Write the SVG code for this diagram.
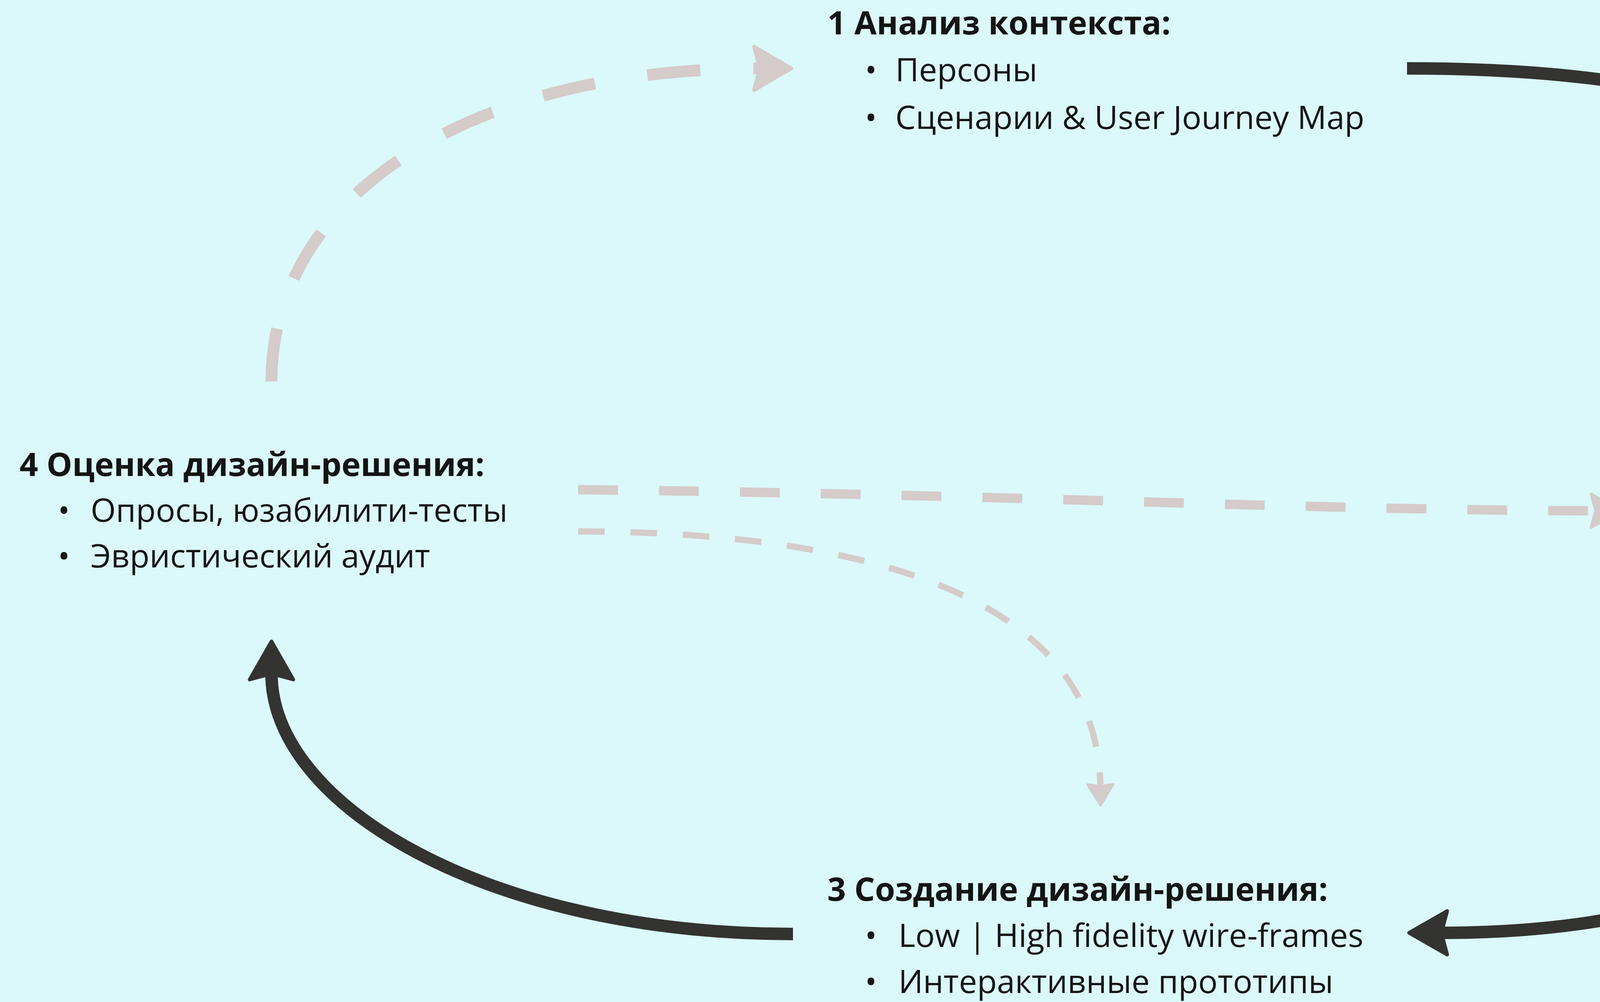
<svg xmlns="http://www.w3.org/2000/svg" width="5748" height="2564" viewBox="0 0 5748 2564">
<style>
  .t { font-family: "Open Sans", "Noto Sans", "Liberation Sans", sans-serif; font-size: 83px; fill: #141414; }
  .h { font-weight: 700; }
  .dark { fill: none; stroke: #333331; stroke-width: 32; stroke-linecap: butt; }
  .pink { fill: none; stroke: #d4cbca; stroke-width: 30; }
  .pinkMid { fill: none; stroke: #d4cbca; stroke-width: 24; }
  .pinkThin { fill: none; stroke: #d4cbca; stroke-width: 16; }
</style>
<defs>
  <marker id="headDark" markerUnits="userSpaceOnUse" orient="auto" refX="15" refY="0" markerWidth="200" markerHeight="200" overflow="visible">
    <path d="M 0 -56 L 98 0 L 0 56 L 15 0 Z" fill="#333331" stroke="#333331" stroke-width="9" stroke-linejoin="round"/>
  </marker>
  <marker id="headPink" markerUnits="userSpaceOnUse" orient="auto" refX="15" refY="0" markerWidth="200" markerHeight="200" overflow="visible">
    <path d="M 0 -56 L 96 0 L 0 56 L 15 0 Z" fill="#d4cbca" stroke="#d4cbca" stroke-width="9" stroke-linejoin="round"/>
  </marker>
  <marker id="headPinkM" markerUnits="userSpaceOnUse" orient="auto" refX="12" refY="0" markerWidth="200" markerHeight="200" overflow="visible">
    <path d="M 0 -43 L 78 0 L 0 43 L 12 0 Z" fill="#d4cbca" stroke="#d4cbca" stroke-width="7" stroke-linejoin="round"/>
  </marker>
  <marker id="headPinkS" markerUnits="userSpaceOnUse" orient="auto" refX="5" refY="0" markerWidth="200" markerHeight="200" overflow="visible">
    <path d="M 0 -33 L 54 0 L 0 33 L 5 0 Z" fill="#d4cbca" stroke="#d4cbca" stroke-width="6" stroke-linejoin="round"/>
  </marker>
</defs>
<rect x="0" y="0" width="5748" height="2564" fill="#dbf8fa"/>

<g id="connectors">
  <path id="e1-2" class="dark" d="M 3602 175 C 4400 175, 4940 350, 4940 890" marker-end="url(#headDark)"/>
  <path id="e2-3" class="dark" d="M 4940 1635 C 4940 2100, 4450 2387, 3690 2387" marker-end="url(#headDark)"/>
  <path id="e3-4" class="dark" d="M 2030 2390 C 1250 2390, 695 2060, 695 1724" marker-end="url(#headDark)"/>
  <path id="e4-1" class="pink" stroke-dasharray="136 136" d="M 695 976 C 695 500, 1200 175, 1945 175" marker-end="url(#headPink)"/>
  <path id="e4-2" class="pinkMid" stroke-dasharray="102 105" d="M 1480 1253 C 2600 1265, 3300 1305, 4085 1307" marker-end="url(#headPinkM)"/>
  <path id="e4-3" class="pinkThin" stroke-dasharray="68 66" d="M 1480 1360 C 2150 1360, 2810 1500, 2817 2012" marker-end="url(#headPinkS)"/>
</g>

<g id="node1">
  <text class="t h" x="2118" y="88">1 Анализ контекста:</text>
  <text class="t" x="2214" y="208">•</text>
  <text class="t" x="2292" y="208">Персоны</text>
  <text class="t" x="2214" y="330">•</text>
  <text class="t" x="2292" y="330">Сценарии &amp; User Journey Map</text>
</g>

<g id="node2">
  <text class="t h" x="4195" y="1218">2 Получение П. требований:</text>
  <text class="t" x="4291" y="1335">•</text>
  <text class="t" x="4380" y="1335">Пользовательские потребности</text>
  <text class="t" x="4291" y="1452">•</text>
  <text class="t" x="4380" y="1452">Пользовательские требования</text>
</g>

<g id="node3">
  <text class="t h" x="2118" y="2305">3 Создание дизайн-решения:</text>
  <text class="t" x="2214" y="2423">•</text>
  <text class="t" x="2300" y="2423">Low | High fidelity wire-frames</text>
  <text class="t" x="2214" y="2541">•</text>
  <text class="t" x="2300" y="2541">Интерактивные прототипы</text>
</g>

<g id="node4">
  <text class="t h" x="50" y="1218">4 Оценка дизайн-решения:</text>
  <text class="t" x="148" y="1335">•</text>
  <text class="t" x="232" y="1335">Опросы, юзабилити-тесты</text>
  <text class="t" x="148" y="1452">•</text>
  <text class="t" x="232" y="1452">Эвристический аудит</text>
</g>
</svg>
